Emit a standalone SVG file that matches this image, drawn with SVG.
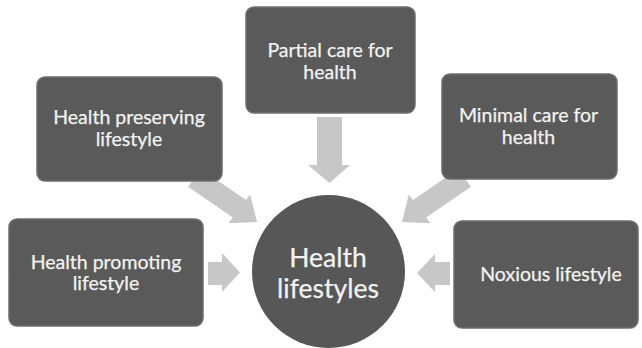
<svg xmlns="http://www.w3.org/2000/svg" width="642" height="348" viewBox="0 0 642 348">
<style>
.box{fill:#5a5a5a;stroke:#6e6e6e;stroke-width:1.5}
.arr{fill:#c7c7c7}
.t{font-family:Lato,"Liberation Sans",sans-serif;font-size:19.5px;fill:#f2f2f2;text-anchor:middle;stroke:#f2f2f2;stroke-width:0.25}
.c{font-size:26.5px}
</style>
<rect width="642" height="348" fill="#ffffff"/>
<g id="connectors">
<polygon class="arr" points="317,117 342,117 342,165 350,165 329.5,183 308,165 317,165"/>
<polygon class="arr" points="201.2,169.2 246,200 250.2,194.4 257,222 228.6,223.2 232.8,217.6 188,186.8"/>
<polygon class="arr" points="457.8,169.2 413,200 408.8,194.4 402,222 430.4,223.2 426.2,217.6 471,186.8"/>
<polygon class="arr" points="208,262 222,262 222,253 240,272.5 222,292 222,285 208,285"/>
<polygon class="arr" points="450,262 435,262 435,254 417,273 435,292 435,285 450,285"/>
</g>
<g id="partial">
<rect class="box" x="246" y="7" width="169" height="106" rx="8"/>
<text class="t" x="330" y="57">Partial care for</text>
<text class="t" x="330" y="79">health</text>
</g>
<g id="preserving">
<rect class="box" x="37" y="77" width="185" height="104" rx="8"/>
<text class="t" x="129" y="124">Health preserving</text>
<text class="t" x="129" y="146">lifestyle</text>
</g>
<g id="minimal">
<rect class="box" x="442" y="74" width="175" height="105" rx="8"/>
<text class="t" x="528.5" y="122">Minimal care for</text>
<text class="t" x="528.5" y="144">health</text>
</g>
<g id="promoting">
<rect class="box" x="9" y="219" width="194" height="107" rx="8"/>
<text class="t" x="106" y="269">Health promoting</text>
<text class="t" x="106" y="290">lifestyle</text>
</g>
<g id="noxious">
<rect class="box" x="454" y="221" width="184" height="107" rx="8"/>
<text class="t" x="551" y="281">Noxious lifestyle</text>
</g>
<g id="center">
<circle cx="328.5" cy="271.5" r="76.5" fill="#575757"/>
<text class="t c" x="328" y="267">Health</text>
<text class="t c" x="328" y="298">lifestyles</text>
</g>
</svg>
